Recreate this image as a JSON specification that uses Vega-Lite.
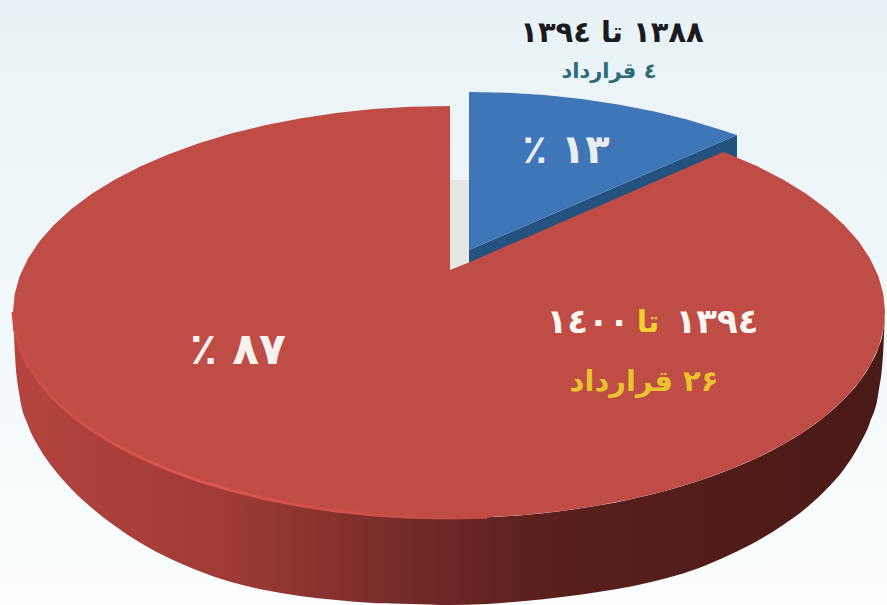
{"$schema":"https://vega.github.io/schema/vega-lite/v6.json","width":887,"height":605,"padding":0,"autosize":{"type":"none"},"config":{"view":{"stroke":null}},"datasets":{"frame":[{"x":0,"x2":887,"y":0,"y2":605}],
"side":[{"x":885,"y":312,"y2":312},{"x":883.3,"y":330,"y2":350},{"x":878.4,"y":347.8,"y2":393},{"x":870.1,"y":365.3,"y2":422},{"x":858.7,"y":382.5,"y2":446},{"x":844.1,"y":399.1,"y2":469},{"x":826.6,"y":415,"y2":489},{"x":806.2,"y":430.2,"y2":508},{"x":783,"y":444.4,"y2":525},{"x":757.3,"y":457.7,"y2":541},{"x":729.3,"y":469.8,"y2":555},{"x":699.1,"y":480.8,"y2":568},{"x":667,"y":490.4,"y2":578},{"x":633.3,"y":498.7,"y2":586},{"x":598.1,"y":505.6,"y2":592},{"x":561.8,"y":511,"y2":597},{"x":524.7,"y":514.9,"y2":601},{"x":487,"y":517.2,"y2":604},{"x":449,"y":518,"y2":605},{"x":411,"y":517.2,"y2":604},{"x":373.3,"y":514.9,"y2":603},{"x":336.2,"y":511,"y2":600},{"x":299.9,"y":505.6,"y2":596},{"x":264.7,"y":498.7,"y2":590},{"x":231,"y":490.4,"y2":582},{"x":198.9,"y":480.8,"y2":571},{"x":168.7,"y":469.8,"y2":558},{"x":140.7,"y":457.7,"y2":543},{"x":115,"y":444.4,"y2":526},{"x":91.8,"y":430.2,"y2":508},{"x":71.4,"y":415,"y2":489},{"x":53.9,"y":399.1,"y2":469},{"x":39.3,"y":382.5,"y2":448},{"x":27.9,"y":365.3,"y2":425},{"x":19.6,"y":347.8,"y2":396},{"x":14.7,"y":330,"y2":350},{"x":13,"y":312,"y2":312}],
"gap":[{"i":0,"x":450,"y":180},{"i":1,"x":469,"y":180},{"i":2,"x":469,"y":265},{"i":3,"x":450,"y":272}],
"bluedark":[{"i":0,"x":469,"y":250},{"i":1,"x":737,"y":135},{"i":2,"x":737,"y":157},{"i":3,"x":469,"y":263}],
"blue":[{"i":0,"x":469,"y":250},{"i":1,"x":469,"y":92},{"i":2,"x":507,"y":92.8},{"i":3,"x":544.7,"y":95.1},{"i":4,"x":581.8,"y":99},{"i":5,"x":618.1,"y":104.4},{"i":6,"x":653.3,"y":111.3},{"i":7,"x":687,"y":119.6},{"i":8,"x":719.1,"y":129.2},{"i":9,"x":737,"y":135}],
"red":[{"i":0,"x":723,"y":152},{"i":1,"x":729.3,"y":154.2},{"i":2,"x":757.3,"y":166.3},{"i":3,"x":783,"y":179.6},{"i":4,"x":806.2,"y":193.8},{"i":5,"x":826.6,"y":209},{"i":6,"x":844.1,"y":224.9},{"i":7,"x":858.7,"y":241.5},{"i":8,"x":870.1,"y":258.7},{"i":9,"x":878.4,"y":276.2},{"i":10,"x":883.3,"y":294},{"i":11,"x":885,"y":312},{"i":12,"x":883.3,"y":330},{"i":13,"x":878.4,"y":347.8},{"i":14,"x":870.1,"y":365.3},{"i":15,"x":858.7,"y":382.5},{"i":16,"x":844.1,"y":399.1},{"i":17,"x":826.6,"y":415},{"i":18,"x":806.2,"y":430.2},{"i":19,"x":783,"y":444.4},{"i":20,"x":757.3,"y":457.7},{"i":21,"x":729.3,"y":469.8},{"i":22,"x":699.1,"y":480.8},{"i":23,"x":667,"y":490.4},{"i":24,"x":633.3,"y":498.7},{"i":25,"x":598.1,"y":505.6},{"i":26,"x":561.8,"y":511},{"i":27,"x":524.7,"y":514.9},{"i":28,"x":487,"y":517.2},{"i":29,"x":449,"y":518},{"i":30,"x":411,"y":517.2},{"i":31,"x":373.3,"y":514.9},{"i":32,"x":336.2,"y":511},{"i":33,"x":299.9,"y":505.6},{"i":34,"x":264.7,"y":498.7},{"i":35,"x":231,"y":490.4},{"i":36,"x":198.9,"y":480.8},{"i":37,"x":168.7,"y":469.8},{"i":38,"x":140.7,"y":457.7},{"i":39,"x":115,"y":444.4},{"i":40,"x":91.8,"y":430.2},{"i":41,"x":71.4,"y":415},{"i":42,"x":53.9,"y":399.1},{"i":43,"x":39.3,"y":382.5},{"i":44,"x":27.9,"y":365.3},{"i":45,"x":19.6,"y":347.8},{"i":46,"x":14.7,"y":330},{"i":47,"x":13,"y":312},{"i":48,"x":14.7,"y":294},{"i":49,"x":19.6,"y":276.2},{"i":50,"x":27.9,"y":258.7},{"i":51,"x":39.3,"y":241.5},{"i":52,"x":53.9,"y":224.9},{"i":53,"x":71.4,"y":209},{"i":54,"x":91.8,"y":193.8},{"i":55,"x":115,"y":179.6},{"i":56,"x":140.7,"y":166.3},{"i":57,"x":168.7,"y":154.2},{"i":58,"x":198.9,"y":143.2},{"i":59,"x":231,"y":133.6},{"i":60,"x":264.7,"y":125.3},{"i":61,"x":299.9,"y":118.4},{"i":62,"x":336.2,"y":113},{"i":63,"x":373.3,"y":109.1},{"i":64,"x":411,"y":106.8},{"i":65,"x":450,"y":106},{"i":66,"x":450,"y":270},{"i":67,"x":470,"y":262}],
"labels":[{"role":"title","label":"\u200F۱۳۸۸ تا ۱۳۹٤","x":612,"y":33},{"role":"sub","label":"\u200F٤ قرارداد","x":609,"y":72},{"role":"pct13","label":"\u200F۱۳ ٪\u200F","x":566,"y":151},{"role":"pct87","label":"\u200F۸۷ ٪\u200F","x":238,"y":351},{"role":"num","label":"۱٤۰۰","x":588,"y":323},{"role":"num","label":"۱۳۹٤","x":717,"y":323},{"role":"ta","label":"تا","x":648,"y":323},{"role":"count","label":"\u200F۲۶ قرارداد","x":644,"y":382}]},
"encoding":{"x":{"field":"x","type":"quantitative","axis":null,"scale":{"domain":[0,887],"nice":false,"zero":false}},"y":{"field":"y","type":"quantitative","axis":null,"scale":{"domain":[605,0],"nice":false,"zero":false}}},
"layer":[
{"data":{"name":"frame"},"mark":{"type":"rect","color":{"gradient":"linear","x1":0,"y1":0,"x2":0,"y2":1,"stops":[{"offset":0,"color":"#e8f2f6"},{"offset":0.6,"color":"#f3f9fb"},{"offset":1,"color":"#fbfdfe"}]}},"encoding":{"x2":{"field":"x2"},"y2":{"field":"y2"}}},
{"data":{"name":"side"},"mark":{"type":"area","interpolate":"monotone","color":{"gradient":"linear","x1":0,"y1":0,"x2":1,"y2":0,"stops":[{"offset":0,"color":"#b5443e"},{"offset":0.25,"color":"#9e3a34"},{"offset":0.45,"color":"#742b29"},{"offset":0.6,"color":"#5a201c"},{"offset":1,"color":"#4a1a16"}]}},"encoding":{"y2":{"field":"y2"}}},
{"data":{"name":"gap"},"mark":{"type":"line","fill":"#e6e6e3","stroke":null},"encoding":{"order":{"field":"i"}}},
{"data":{"name":"bluedark"},"mark":{"type":"line","fill":"#23527f","stroke":null},"encoding":{"order":{"field":"i"}}},
{"data":{"name":"blue"},"mark":{"type":"line","fill":"#3f76b8","stroke":null},"encoding":{"order":{"field":"i"}}},
{"data":{"name":"red"},"mark":{"type":"line","fill":"#c04c46","stroke":null},"encoding":{"order":{"field":"i"}}},
{"data":{"name":"side"},"transform":[{"filter":"datum.x<520"}],"mark":{"type":"line","strokeWidth":3,"color":{"gradient":"linear","x1":0,"y1":0,"x2":1,"y2":0,"stops":[{"offset":0,"color":"#c94e48"},{"offset":0.4,"color":"#dd5650"},{"offset":1,"color":"#c04c46"}]}}},
{"data":{"name":"labels"},"transform":[{"filter":"datum.role=='title'"}],"mark":{"type":"text","font":"DejaVu Sans","fontWeight":"bold","fontSize":29,"color":"#1a1a1f"},"encoding":{"text":{"field":"label"}}},
{"data":{"name":"labels"},"transform":[{"filter":"datum.role=='sub'"}],"mark":{"type":"text","font":"DejaVu Sans","fontWeight":"bold","fontSize":21,"color":"#2e6b78"},"encoding":{"text":{"field":"label"}}},
{"data":{"name":"labels"},"transform":[{"filter":"datum.role=='pct13'"}],"mark":{"type":"text","font":"DejaVu Sans","fontWeight":"bold","fontSize":40,"color":"#e9eef2"},"encoding":{"text":{"field":"label"}}},
{"data":{"name":"labels"},"transform":[{"filter":"datum.role=='pct87'"}],"mark":{"type":"text","font":"DejaVu Sans","fontWeight":"bold","fontSize":44,"color":"#f6f2ee"},"encoding":{"text":{"field":"label"}}},
{"data":{"name":"labels"},"transform":[{"filter":"datum.role=='num'"}],"mark":{"type":"text","font":"DejaVu Sans","fontWeight":"bold","fontSize":34,"color":"#fbf6f0"},"encoding":{"text":{"field":"label"}}},
{"data":{"name":"labels"},"transform":[{"filter":"datum.role=='ta'"}],"mark":{"type":"text","font":"DejaVu Sans","fontWeight":"bold","fontSize":30,"color":"#f2cf2e"},"encoding":{"text":{"field":"label"}}},
{"data":{"name":"labels"},"transform":[{"filter":"datum.role=='count'"}],"mark":{"type":"text","font":"DejaVu Sans","fontWeight":"bold","fontSize":29,"color":"#eac42e"},"encoding":{"text":{"field":"label"}}}
]}
